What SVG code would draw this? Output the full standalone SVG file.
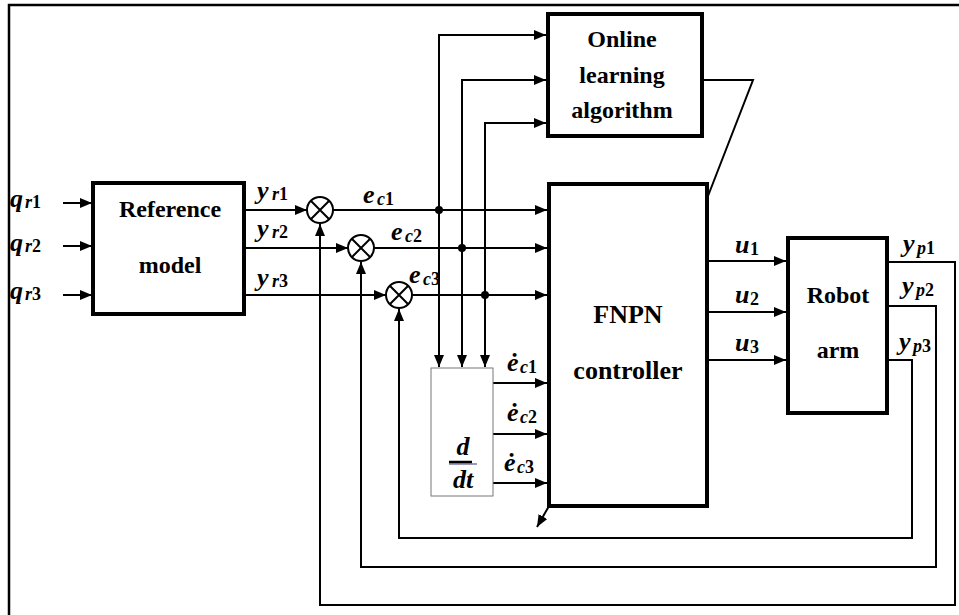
<svg xmlns="http://www.w3.org/2000/svg" width="959" height="615" viewBox="0 0 959 615">
<defs>
<marker id="ah" viewBox="0 0 12 10" refX="12" refY="5" markerWidth="12" markerHeight="10" markerUnits="userSpaceOnUse" orient="auto">
<path d="M0,0 L12,5 L0,10 Z" fill="#000"/>
</marker>
<style>
.blk{fill:#fff;stroke:#000;stroke-width:4}
.lbl{font-family:"Liberation Serif","DejaVu Serif",serif;font-weight:bold;font-size:24px;text-anchor:middle;fill:#000}
.m{font-family:"Liberation Serif","DejaVu Serif",serif;font-weight:bold;font-style:italic;font-size:26px;fill:#000}
.s{font-size:18px}
.n{font-style:normal}
.c{fill:none;stroke:#000;stroke-width:2}
.ca{fill:none;stroke:#000;stroke-width:2;marker-end:url(#ah)}
.sum{fill:#fff;stroke:#000;stroke-width:2}
</style>
</defs>
<rect width="959" height="615" fill="#fff"/>
<path d="M9,615 V5 H959" fill="none" stroke="#000" stroke-width="2.5"/>

<g id="connectors">
<path class="ca" d="M63,203 H92"/>
<path class="ca" d="M63,246 H92"/>
<path class="ca" d="M63,295 H92"/>
<path class="ca" d="M244,210 H307"/>
<path class="ca" d="M244,248 H348"/>
<path class="ca" d="M244,295 H386"/>
<path class="ca" d="M333,210 H547"/>
<path class="ca" d="M374,248 H547"/>
<path class="ca" d="M412,295 H547"/>
<path class="ca" d="M439,210 V35 H546"/>
<path class="ca" d="M462,248 V80 H546"/>
<path class="ca" d="M485,295 V123 H546"/>
<path class="ca" d="M439,210 V367"/>
<path class="ca" d="M462,248 V367"/>
<path class="ca" d="M485,295 V367"/>
<circle cx="439" cy="210" r="4"/>
<circle cx="462" cy="248" r="4"/>
<circle cx="485" cy="295" r="4"/>
<path class="ca" d="M493,383 H547"/>
<path class="ca" d="M493,434 H547"/>
<path class="ca" d="M493,483 H547"/>
<path class="ca" d="M707,261 H786"/>
<path class="ca" d="M707,312 H786"/>
<path class="ca" d="M707,360 H786"/>
<path class="ca" d="M887,262 H955 V605 H320 V224"/>
<path class="ca" d="M887,306 H936 V567 H361 V262"/>
<path class="ca" d="M887,360 H912 V538 H399 V309"/>
<path class="c" d="M702,80 H753 L708,196"/>
<path class="ca" d="M549,506 L537,527"/>
</g>

<g id="sum1"><circle class="sum" cx="320" cy="210" r="13"/><path class="c" d="M310.8,200.8 L329.2,219.2 M329.2,200.8 L310.8,219.2"/></g>
<g id="sum2"><circle class="sum" cx="361" cy="248" r="13"/><path class="c" d="M351.8,238.8 L370.2,257.2 M370.2,238.8 L351.8,257.2"/></g>
<g id="sum3"><circle class="sum" cx="399" cy="295" r="13"/><path class="c" d="M389.8,285.8 L408.2,304.2 M408.2,285.8 L389.8,304.2"/></g>

<g id="reference">
<rect class="blk" x="93" y="183" width="151" height="131"/>
<text class="lbl" x="170" y="217">Reference</text>
<text class="lbl" x="170" y="273">model</text>
</g>
<g id="online">
<rect class="blk" x="548" y="14" width="154" height="122"/>
<text class="lbl" x="622" y="47">Online</text>
<text class="lbl" x="622" y="83">learning</text>
<text class="lbl" x="622" y="118">algorithm</text>
</g>
<g id="fnpn">
<rect class="blk" x="549" y="184" width="158" height="322"/>
<text class="lbl" x="628" y="323" style="font-size:26px">FNPN</text>
<text class="lbl" x="628" y="379" style="font-size:26px">controller</text>
</g>
<g id="robot">
<rect class="blk" x="788" y="238" width="99" height="175"/>
<text class="lbl" x="838" y="303">Robot</text>
<text class="lbl" x="838" y="358">arm</text>
</g>
<g id="ddt">
<rect x="431" y="368" width="62" height="128" fill="#fff" stroke="#777" stroke-width="1"/>
<line x1="449" y1="464" x2="477" y2="464" stroke="#9a9ab4" stroke-width="2"/>
<text class="m" x="463" y="455" text-anchor="middle" style="font-size:26px">d</text>
<line x1="449" y1="462" x2="472" y2="462" stroke="#000" stroke-width="2.5"/>
<text class="m" x="463" y="488" text-anchor="middle" style="font-size:26px">dt</text>
</g>

<g id="labels">
<text class="m" x="10" y="207">q<tspan class="s" x="25" y="208">r</tspan><tspan class="s n">1</tspan></text>
<text class="m" x="10" y="251">q<tspan class="s" x="25" y="252">r</tspan><tspan class="s n">2</tspan></text>
<text class="m" x="10" y="299">q<tspan class="s" x="25" y="300">r</tspan><tspan class="s n">3</tspan></text>
<text class="m" x="257" y="199">y<tspan class="s" x="272" y="200">r</tspan><tspan class="s n">1</tspan></text>
<text class="m" x="257" y="237">y<tspan class="s" x="272" y="238">r</tspan><tspan class="s n">2</tspan></text>
<text class="m" x="257" y="286">y<tspan class="s" x="272" y="287">r</tspan><tspan class="s n">3</tspan></text>
<text class="m" x="363" y="203">e<tspan class="s" x="377" y="205">c</tspan><tspan class="s n">1</tspan></text>
<text class="m" x="391" y="240">e<tspan class="s" x="405" y="242">c</tspan><tspan class="s n">2</tspan></text>
<text class="m" x="409" y="283">e<tspan class="s" x="423" y="285">c</tspan><tspan class="s n">3</tspan></text>
<text class="m" x="507" y="371">ė<tspan class="s" x="520" y="373">c</tspan><tspan class="s n">1</tspan></text>
<text class="m" x="507" y="421">ė<tspan class="s" x="520" y="423">c</tspan><tspan class="s n">2</tspan></text>
<text class="m" x="504" y="471">ė<tspan class="s" x="517" y="473">c</tspan><tspan class="s n">3</tspan></text>
<text class="m" x="735" y="253">u<tspan class="s n" x="750" y="255">1</tspan></text>
<text class="m" x="735" y="303">u<tspan class="s n" x="750" y="305">2</tspan></text>
<text class="m" x="735" y="351">u<tspan class="s n" x="750" y="353">3</tspan></text>
<text class="m" x="903" y="252">y<tspan class="s" x="917" y="254">p</tspan><tspan class="s n">1</tspan></text>
<text class="m" x="902" y="294">y<tspan class="s" x="916" y="296">p</tspan><tspan class="s n">2</tspan></text>
<text class="m" x="899" y="350">y<tspan class="s" x="913" y="352">p</tspan><tspan class="s n">3</tspan></text>
</g>
</svg>
